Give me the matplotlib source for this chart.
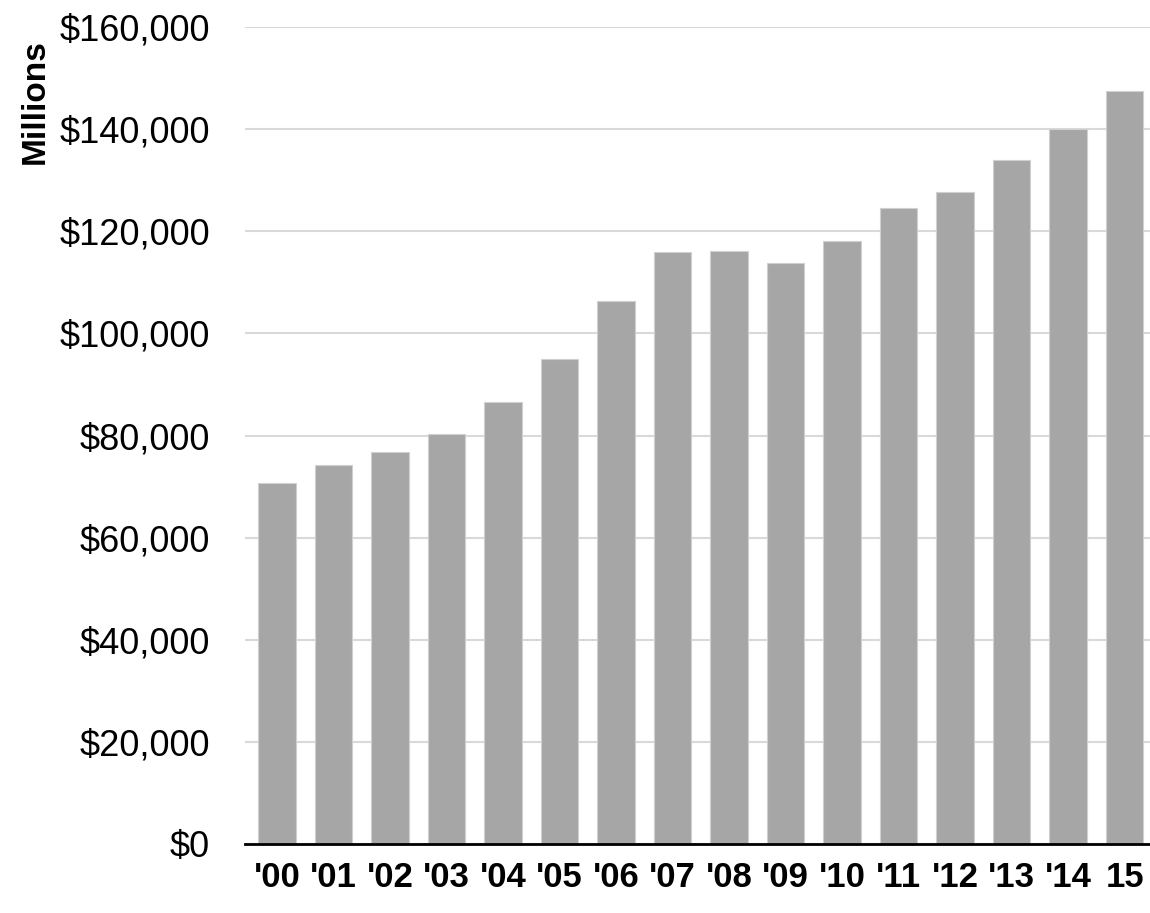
import matplotlib
matplotlib.use("Agg")
import matplotlib.pyplot as plt
from matplotlib.ticker import FuncFormatter

years = ["'00", "'01", "'02", "'03", "'04", "'05", "'06", "'07", "'08", "'09",
         "'10", "'11", "'12", "'13", "'14", "15"]
values = [70700, 74200, 76800, 80300, 86600, 95000, 106300, 115900, 116100, 113800,
          118100, 124600, 127700, 134000, 140000, 147500]
yticks = [0, 20000, 40000, 60000, 80000, 100000, 120000, 140000, 160000]

plt.rcParams['font.family'] = ['Liberation Sans', 'DejaVu Sans']

fig = plt.figure(figsize=(11.5, 9.13), dpi=100)
ax = fig.add_axes([0.213, 0.0756, 0.787, 0.8948])

x = list(range(len(years)))
ax.bar(x, values, width=0.66, color='#a6a6a6', edgecolor='#d0d0d0', linewidth=0.8, zorder=3)

ax.set_ylim(0, 160000)
ax.set_xlim(-0.565, 15.45)
ax.set_yticks(yticks)
ax.yaxis.set_major_formatter(FuncFormatter(lambda v, p: "${:,.0f}".format(v)))
ax.set_xticks(x)
ax.set_xticklabels(years, fontweight='bold')
ax.grid(axis='y', color='#d9d9d9', linewidth=1.5, zorder=0)
ax.set_axisbelow(True)

for s in ['top', 'right', 'left']:
    ax.spines[s].set_visible(False)
ax.spines['bottom'].set_color('black')
ax.spines['bottom'].set_linewidth(2)
ax.spines['bottom'].set_zorder(4)

ax.tick_params(axis='y', length=0, pad=25, labelsize=26)
ax.tick_params(axis='x', length=0, pad=12, labelsize=25)

fig.text(35/1150, 1 - 102/913, "Millions", rotation=90, fontsize=24, fontweight='bold',
         ha='center', va='center')

fig.savefig("out.png", dpi=100)
